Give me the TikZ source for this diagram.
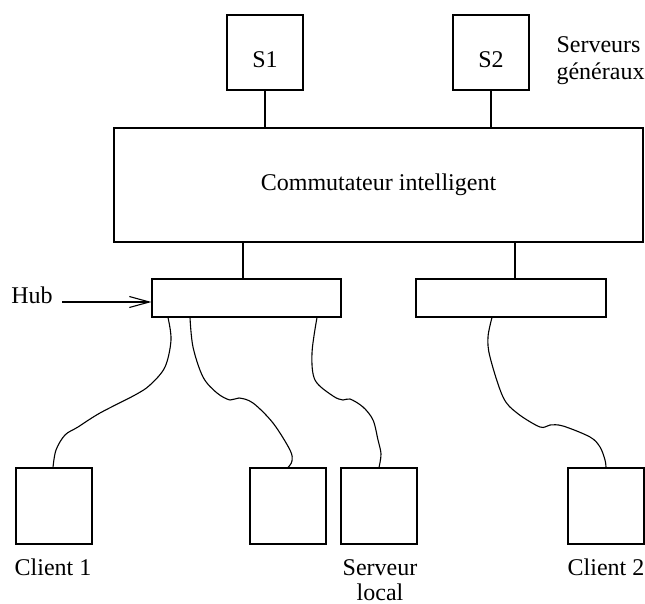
\documentclass[tikz,border=0pt]{standalone}
\usepackage{fontspec}
\setmainfont{Liberation Serif}
\usetikzlibrary{arrows.meta}
\begin{document}
\begin{tikzpicture}[x=1pt,y=-1pt,line width=1.1pt,
  box/.style={draw,inner sep=0pt},
  lbl/.style={inner sep=0pt,anchor=base,font=\fontsize{24}{28}\selectfont},
  lbll/.style={inner sep=0pt,anchor=base west,font=\fontsize{24}{28}\selectfont},
  wire/.style={smooth,tension=0.55}]
\useasboundingbox (0,0) rectangle (645,604);
% boxes
\node[box,minimum width=76pt,minimum height=75pt] (S1) at (265,52.5) {};
\node[box,minimum width=76pt,minimum height=75pt] (S2) at (491,52.5) {};
\node[box,minimum width=529pt,minimum height=114pt] (sw) at (378.5,185) {};
\node[box,minimum width=189pt,minimum height=38pt] (hubA) at (246.5,298) {};
\node[box,minimum width=190pt,minimum height=38pt] (hubB) at (511,298) {};
\node[box,minimum width=76pt,minimum height=76pt] (c1) at (54,506) {};
\node[box,minimum width=76pt,minimum height=76pt] (c2) at (288,506) {};
\node[box,minimum width=76pt,minimum height=76pt] (c3) at (379,506) {};
\node[box,minimum width=76pt,minimum height=76pt] (c4) at (606,506) {};
% labels
\node[lbl] (tS1) at (265,68) {S1};
\node[lbl] (tS2) at (491,68) {S2};
\node[lbll] (tsa) at (556,53) {Serveurs};
\node[lbll] (tsb) at (556,80) {généraux};
\node[lbl] (tsw) at (378.5,191) {Commutateur intelligent};
\node[lbl] (thub) at (32,303) {Hub};
\node[lbl] (tc1) at (53,575) {Client 1};
\node[lbl] (tsl1) at (380,575) {Serveur};
\node[lbl] (tsl2) at (380,600) {local};
\node[lbl] (tc2) at (606,575) {Client 2};
% straight links
\draw (S1.south) -- (S1.south |- sw.north);
\draw (S2.south) -- (S2.south |- sw.north);
\coordinate (ka) at (243,0);
\coordinate (kb) at (515,0);
\draw (sw.south -| ka) -- (hubA.north -| ka);
\draw (sw.south -| kb) -- (hubB.north -| kb);
% hub arrow
\coordinate (hubtail) at (62,302);
\draw[-{Straight Barb[length=20pt,width=11pt]}] (hubtail) -- (hubA.west |- hubtail);
% cables
\draw plot[wire] coordinates {([xshift=-78.5pt]hubA.south) (171,340) (165,367) (150,385) (135,395) (100,413) (78,427) (65,435) (56,450) ([xshift=-1pt]c1.north)};
\draw plot[wire] coordinates {([xshift=-56.5pt]hubA.south) (193,347) (203,377) (217,393) (230,400) (239,398) (253,403) (273,423) (290,450) (292,461) (c2.north)};
\draw plot[wire] coordinates {([xshift=70.5pt]hubA.south) (312,353) (315,380) (333,396) (343,400) (350,399) (363,407) (373,420) (378,440) (381,454) (c3.north)};
\draw plot[wire] coordinates {([xshift=-19pt]hubB.south) (488,337) (490,357) (503,397) (517,413) (540,427) (550,425) (563,426) (590,437) (600,447) (605,460) (c4.north)};
\end{tikzpicture}
\end{document}
